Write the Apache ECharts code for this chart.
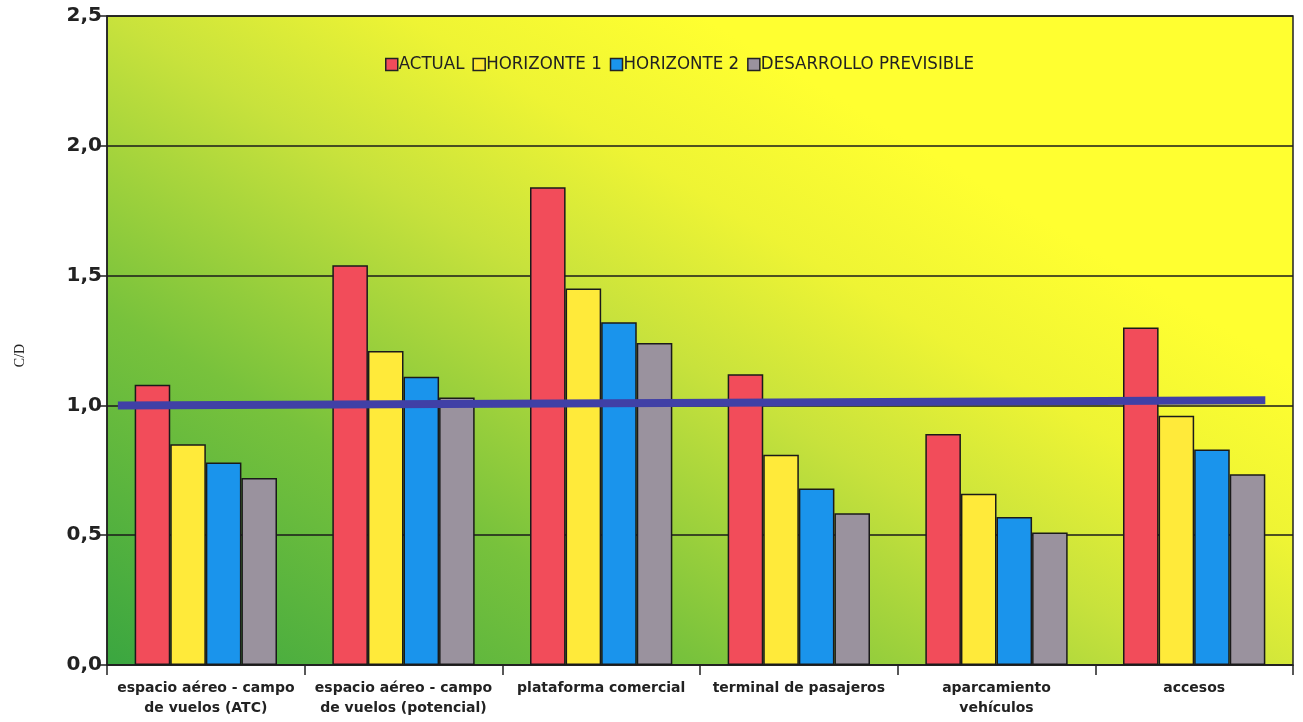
<!DOCTYPE html>
<html>
<head>
<meta charset="utf-8">
<script src="https://cdn.jsdelivr.net/npm/echarts@6/dist/echarts.min.js"></script>
<style>html,body{margin:0;padding:0;background:#fff;}#c{width:1303px;height:722px;}</style>
</head>
<body>
<div id="c"></div>
<script>
var categories = ['espacio aéreo - campo\nde vuelos (ATC)', 'espacio aéreo - campo\nde vuelos (potencial)', 'plataforma comercial', 'terminal de pasajeros', 'aparcamiento\nvehículos', 'accesos'];
var seriesNames = ['ACTUAL', 'HORIZONTE 1', 'HORIZONTE 2', 'DESARROLLO PREVISIBLE'];
var actual = [1.08, 1.54, 1.84, 1.12, 0.89, 1.30];
var horizonte1 = [0.85, 1.21, 1.45, 0.81, 0.66, 0.96];
var horizonte2 = [0.78, 1.11, 1.32, 0.68, 0.57, 0.83];
var desarrollo = [0.72, 1.03, 1.24, 0.585, 0.51, 0.735];
var refLine = [[0.055, 1.0], [5.86, 1.02]];
var yTicks = [0, 0.5, 1.0, 1.5, 2.0, 2.5];
var colors = ['#f24c5a', '#ffea3a', '#1a94ec', '#9a929e'];

var chart = echarts.init(document.getElementById('c'));
var values = [actual, horizonte1, horizonte2, desarrollo];
var series = values.map(function (d, i) {
  return {
    name: seriesNames[i], type: 'bar', data: d,
    barGap: '0%', barCategoryGap: '28%',
    itemStyle: { color: colors[i], borderColor: '#1a1a1a', borderWidth: 1.5 },
    z: 3
  };
});
series.push({
  type: 'line', xAxisIndex: 1, data: refLine, symbol: 'none',
  lineStyle: { color: '#4040a6', width: 8 }, z: 5, silent: true
});
chart.setOption({
  animation: false,
  legend: {
    data: seriesNames.map(function (n) { return { name: n, icon: 'rect' }; }),
    left: 380, top: 50, itemWidth: 12, itemHeight: 12, itemGap: 8,
    itemStyle: { borderColor: '#222', borderWidth: 1.5 },
    textStyle: { fontFamily: 'DejaVu Sans Condensed, Liberation Sans Narrow, sans-serif', fontSize: 18.5, color: '#222', padding: [0, 0, 0, -4] }
  },
  grid: {
    left: 107, right: 10, top: 16, bottom: 57, show: true,
    borderColor: '#222', borderWidth: 1.5,
    backgroundColor: new echarts.graphic.LinearGradient(0, 1, 0.438, -0.34, [
      { offset: 0, color: '#3aa640' },
      { offset: 0.3, color: '#78c23c' },
      { offset: 0.55, color: '#c8e23c' },
      { offset: 0.7, color: '#eef434' },
      { offset: 0.85, color: '#ffff30' },
      { offset: 1, color: '#ffff30' }
    ])
  },
  xAxis: [{
    type: 'category', data: categories,
    axisLine: { lineStyle: { color: '#222', width: 1.5 } },
    axisTick: { show: true, length: 10, lineStyle: { color: '#222', width: 1.5 } },
    axisLabel: { fontFamily: 'DejaVu Sans, sans-serif', fontWeight: 'bold', fontSize: 14, color: '#222', margin: 13, lineHeight: 20, interval: 0 }
  }, {
    type: 'value', min: 0, max: 6, show: false
  }],
  yAxis: {
    type: 'value', min: 0, max: 2.5, interval: 0.5,
    name: 'C/D', nameLocation: 'middle', nameGap: 80, nameRotate: 90,
    nameTextStyle: { fontFamily: 'Liberation Serif, serif', fontSize: 14, color: '#222', padding: [0, 30, 0, 0] },
    axisLine: { show: true, lineStyle: { color: '#222', width: 1.5 } },
    axisTick: { show: true, length: 7, lineStyle: { color: '#222', width: 1.5 } },
    axisLabel: {
      fontFamily: 'DejaVu Sans, sans-serif', fontWeight: 'bold', fontSize: 20, color: '#222', margin: 5,
      formatter: function (v) { return yTicks.indexOf(v) >= 0 ? v.toFixed(1).replace('.', ',') : ''; }
    },
    splitLine: { show: true, lineStyle: { color: '#1a1a1a', width: 1.5 } }
  },
  series: series
});
</script>
</body>
</html>
